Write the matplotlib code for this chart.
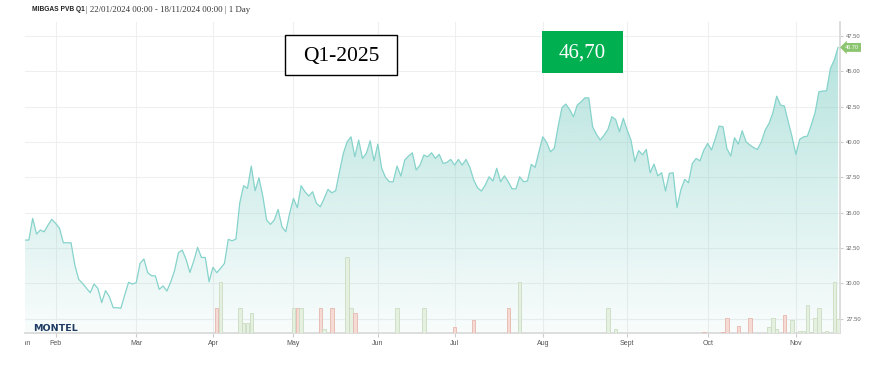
import numpy as np
import pandas as pd
import matplotlib
matplotlib.use("Agg")
import matplotlib.pyplot as plt
from matplotlib.patches import Polygon, Rectangle

# trading days of the contract, 22/01/2024 - 18/11/2024
holidays = ["2024-03-29", "2024-04-01", "2024-05-01"]
days = pd.bdate_range("2024-01-22", "2024-11-18")
days = days[~days.isin(pd.to_datetime(holidays))]

price = [
    33.06, 33.06, 34.60, 33.49, 33.77, 33.65, 34.12, 34.53, 34.24, 33.89,
    32.87, 32.87, 32.87, 31.29, 30.28, 29.99, 29.66, 29.33, 29.95, 29.64,
    28.63, 29.48, 29.05, 28.27, 28.27, 28.23, 29.17, 30.07, 29.95, 30.04,
    31.41, 31.72, 30.75, 30.54, 30.52, 29.57, 29.81, 29.45, 30.10, 30.90,
    32.16, 32.35, 31.69, 30.77, 31.58, 32.54, 31.83, 31.83, 30.11, 31.13,
    30.75, 31.06, 31.41, 33.11, 33.01, 33.13, 35.70, 36.91, 36.72, 38.30,
    36.55, 37.47, 36.18, 34.48, 34.17, 34.48, 35.23, 34.00, 33.65, 34.95,
    36.01, 35.35, 36.91, 36.48, 36.18, 36.48, 35.66, 35.42, 36.01, 36.65,
    36.41, 36.55, 37.90, 39.20, 40.02, 40.37, 38.96, 40.14, 38.84, 39.20,
    40.09, 38.67, 39.86, 38.14, 37.50, 37.19, 37.19, 38.30, 37.59, 38.72,
    39.01, 39.24, 38.02, 38.37, 39.08, 38.96, 39.24, 38.84, 39.13, 38.49,
    38.56, 38.77, 38.37, 38.77, 38.37, 38.77, 38.21, 37.31, 36.76, 36.53,
    36.95, 37.54, 37.24, 38.14, 37.19, 37.61, 37.19, 36.69, 36.69, 37.54,
    37.19, 37.24, 38.42, 38.21, 39.31, 40.37, 39.98, 39.31, 39.55, 41.08,
    42.43, 42.69, 42.31, 41.79, 42.62, 42.85, 43.13, 43.13, 41.08, 40.54,
    40.14, 40.49, 40.90, 41.79, 41.60, 40.73, 41.68, 40.85, 40.14, 38.62,
    39.40, 39.10, 39.48, 37.83, 38.44, 37.61, 37.83, 36.53, 37.78, 37.83,
    35.35, 36.60, 37.36, 37.12, 38.49, 38.84, 38.67, 39.43, 39.91, 39.43,
    40.26, 41.13, 41.08, 39.55, 39.01, 40.30, 39.86, 40.80, 40.02, 39.79,
    39.60, 39.48, 40.02, 40.85, 41.32, 42.07, 43.25, 42.62, 42.55, 41.44,
    40.37, 39.13, 40.19, 40.37, 40.42, 41.20, 42.07, 43.56, 43.61, 43.63,
    45.21, 45.80, 46.70,
]

# traded volume bars (g = up day, r = down day)
vol_dates = [
    "2024-04-03", "2024-04-04", "2024-04-11", "2024-04-12", "2024-04-15", "2024-04-16",
    "2024-05-02", "2024-05-03", "2024-05-06", "2024-05-13", "2024-05-14", "2024-05-16",
    "2024-05-22", "2024-05-23", "2024-05-24", "2024-06-10", "2024-06-19", "2024-07-01",
    "2024-07-08", "2024-07-19", "2024-07-24", "2024-08-26", "2024-08-28", "2024-09-30",
    "2024-10-07", "2024-10-08", "2024-10-11", "2024-10-16", "2024-10-23", "2024-10-24",
    "2024-10-25", "2024-10-29", "2024-10-31", "2024-11-04", "2024-11-05", "2024-11-06",
    "2024-11-07", "2024-11-08", "2024-11-11", "2024-11-13", "2024-11-15", "2024-11-18",
]
vol = [
    5, 10, 5, 2, 2, 4,
    5, 5, 5, 5, 0.8, 5,
    15, 5, 4, 5, 5, 1.1,
    2.5, 5, 10, 5, 0.8, 0.2,
    0.25, 2.9, 1.3, 2.9, 1.1, 2.9,
    0.8, 3.5, 2.5, 0.4, 0.4, 5.5,
    0.2, 2.9, 5, 0.4, 10, 2.7,
]
vol_side = list("rggggg" "grgrgr" "ggrggr" "rrgggr"
                "rrrrgg" "grgggg" "gggggg")

month_names = ["Feb", "Mar", "Apr", "May", "Jun", "Jul", "Aug", "Sept", "Oct", "Nov"]
y_ticks = [27.5, 30.0, 32.5, 35.0, 37.5, 40.0, 42.5, 45.0, 47.5]
last_price = "46.70"

x = np.arange(len(price))
ymin, ymax = 26.48, 48.5

W, H = 873, 365
fig = plt.figure(figsize=(W / 100, H / 100), dpi=100)
ax = fig.add_axes([25 / W, 32 / H, 815 / W, 311 / H])

# gradient area under the line
teal = np.array([124, 205, 196]) / 255
grad = np.zeros((256, 1, 4))
grad[..., :3] = teal
grad[..., 3] = np.linspace(0.6, 0.05, 256)[:, None]
area = Polygon(np.vstack([[x[0], ymin], np.column_stack([x, price]), [x[-1], ymin]]),
               closed=True, facecolor="none", edgecolor="none")
ax.add_patch(area)
im = ax.imshow(grad, extent=[x[0], x[-1], ymin, ymax], aspect="auto",
               origin="upper", zorder=1)
im.set_clip_path(area)
ax.plot(x, price, color="#86d3cb", lw=0.9, zorder=3)

ax.set_xlim(0, 212.5)
ax.set_ylim(ymin, ymax)

# volume bars on their own scale
ax2 = ax.twinx()
vx = [days.get_loc(pd.Timestamp(d)) for d in vol_dates]
fc = ["#e6f0e0" if s == "g" else "#f6dad4" for s in vol_side]
ec = ["#cadcc2" if s == "g" else "#e5b7ae" for s in vol_side]
ax2.bar(vx, vol, width=0.9, color=fc, edgecolor=ec, linewidth=0.6)
ax2.set_ylim(0, 61.3)
ax2.set_xlim(0, 212.5)
ax2.set_yticks([])
for s in ax2.spines.values():
    s.set_visible(False)

# month ticks at first trading day of each month
months = [2, 3, 4, 5, 6, 7, 8, 9, 10, 11]
mpos = [int(np.argmax(days.month == m)) for m in months]
ax.set_xticks(mpos)
ax.set_xticklabels(month_names, fontsize=5, color="#555555", family="Liberation Sans")
ax.tick_params(axis="x", length=3, color="#cccccc", pad=2)

ax.yaxis.tick_right()
ax.set_yticks(y_ticks)
ax.set_yticklabels([f"{v:.2f}" for v in y_ticks], fontsize=4.2, color="#666666",
                   family="Liberation Sans")
ax.tick_params(axis="y", which="both", left=False, labelleft=False, right=True,
               labelright=True, length=2.5, color="#cccccc", pad=2)

ax.set_axisbelow(True)
ax.grid(True, color="#efefef", lw=0.8)
for s in ["top", "left"]:
    ax.spines[s].set_visible(False)
for s in ["right", "bottom"]:
    ax.spines[s].set_color("#dadada")
    ax.spines[s].set_linewidth(1.3)

# "Jan" label, clipped by the plot's left edge
jan = ax.text(0.2, -0.022, "Jan", transform=ax.get_xaxis_transform(), ha="center",
              va="top", fontsize=5, color="#555555", family="Liberation Sans",
              clip_on=True)
jan.set_clip_path(Rectangle((25 / W, 0), 1, 1, transform=fig.transFigure))

# last price tag
ax2.annotate(last_price, xy=(x[-1], (float(last_price) - ymin) / (ymax - ymin)),
             xycoords=("data", "axes fraction"), xytext=(5, 0),
             textcoords="offset points", va="center", ha="left", fontsize=4,
             color="white", family="Liberation Sans", annotation_clip=False,
             bbox=dict(boxstyle="larrow,pad=0.35", fc="#8cc56f", ec="none"))

# header
t1 = fig.text(31.7 / W, 1 - 13 / H, "MIBGAS PVB Q1", fontsize=4.8, weight="bold",
              color="#222222", family="Liberation Sans", va="bottom")
fig.canvas.draw()
bb = t1.get_window_extent()
fig.text(bb.x1 / W + 2 / W, 1 - 13.5 / H, "| 22/01/2024 00:00 - 18/11/2024 00:00 | 1 Day",
         fontsize=6.3, color="#333333", family="Liberation Serif", va="bottom")

# logo
fig.text(33 / W, 1 - 331 / H, "MONTEL", fontsize=6.8, weight="bold",
         color="#1d3b62", family="DejaVu Sans", va="baseline")

# boxes
fig.patches.append(Rectangle((285 / W, 1 - 75 / H), 112 / W, 40 / H, transform=fig.transFigure,
                             facecolor="white", edgecolor="black", lw=1, zorder=5))
fig.text(341 / W, 1 - 56 / H, "Q1-2025", fontsize=15.5, family="Liberation Serif",
         ha="center", va="center", color="black", zorder=6)
fig.patches.append(Rectangle((542 / W, 1 - 73 / H), 81 / W, 42 / H, transform=fig.transFigure,
                             facecolor="#00b050", edgecolor="none", zorder=5))
fig.text(582.5 / W, 1 - 53 / H, "46,70", fontsize=15, family="Liberation Serif",
         ha="center", va="center", color="white", zorder=6)

fig.savefig("out.png", dpi=100)
